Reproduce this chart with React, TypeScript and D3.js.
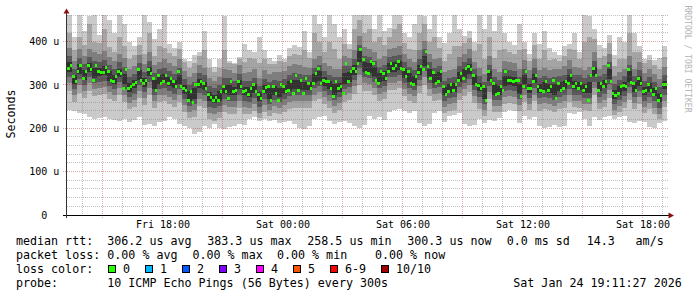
import React from 'react';
import * as d3 from 'd3';

// ---- time span (UTC used as wall clock) ----
const START = Date.UTC(2026, 0, 23, 13, 12);
const END = Date.UTC(2026, 0, 24, 19, 12);
const Y_MAX = 461.5; // microseconds at top of plot

// median rtt in microseconds, one value per 7.5 minutes
const MEDIAN_US = [
  338,346,319,309,331,346,315,331,346,336, 311,346,331,328,328,341,331,311,308,319,
  331,327,293,335,293,296,300,305,335,311, 304,311,335,327,315,288,323,304,308,323,
  304,315,308,296,331,296,292,288,265,285, 259,300,300,308,304,292,277,270,265,272,
  265,285,296,285,269,308,285,288,308,296, 285,288,277,292,300,285,277,269,285,295,
  296,265,296,281,265,302,296,285,288,308, 281,321,288,311,281,315,304,292,304,327,
  339,304,311,308,308,292,273,308,292,296, 281,350,308,331,339,331,350,383,358,328,
  327,354,350,311,304,331,327,315,331,350, 339,346,354,339,335,319,331,304,302,319,
  328,342,335,377,342,315,328,304,308,331, 296,277,285,300,288,300,311,327,315,339,
  342,335,323,300,298,292,296,265,331,311, 304,277,281,296,288,331,311,311,308,311,
  310,273,296,331,292,292,308,323,296,288, 285,308,288,296,311,269,304,288,292,308,
  304,323,296,304,292,304,288,296,265,323, 339,323,288,304,296,308,344,308,281,275,
  281,296,298,296,336,305,304,287,315,304, 285,288,300,288,277,292,265,275,300,300,
];

// smoke: sorted ping pairs, one value per 15 minutes (microseconds)
const HI1 = [
  470,410,470,425,460,470,415,470,450,420, 470,440,400,390,410,470,445,405,430,470,
  395,385,400,360,355,370,375,425,360,342, 360,460,355,350,365,395,380,375,410,380,
  362,355,370,360,385,392,388,425,375,470, 440,410,470,440,410,430,395,470,470,470,
  470,430,470,425,432,470,465,420,410,440, 470,460,430,470,410,398,420,470,430,412,
  425,400,470,430,470,425,460,420,400,392, 440,400,372,420,395,425,385,375,370,390,
  395,420,375,470,460,430,392,385,415,370, 410,400,470,420,390,360,370,358,362,390,
];
const HI2 = [
  420,380,410,392,440,400,398,430,388,376, 410,390,360,370,392,372,420,368,390,386,
  374,366,384,352,340,350,366,380,340,330, 340,380,350,348,360,352,362,360,350,360,
  348,348,356,352,366,372,370,380,362,420, 400,376,400,382,360,395,382,430,450,420,
  430,400,410,392,410,430,440,396,384,380, 420,440,400,410,386,356,372,390,390,396,
  408,378,395,360,410,362,380,382,376,372, 380,382,356,392,360,380,358,360,356,368,
  382,380,360,400,410,405,362,366,396,344, 360,360,420,376,376,350,358,345,336,365,
];
const HI3 = [
  386,356,384,366,384,376,372,378,364,356, 372,362,336,344,370,348,376,346,354,360,
  350,344,360,332,318,328,346,340,316,310, 318,336,334,328,346,328,330,336,316,334,
  326,330,330,332,344,348,345,342,340,360, 366,350,344,336,336,366,362,380,412,388,
  384,376,360,366,384,386,390,372,360,352, 380,402,372,360,362,330,334,338,364,372,
  382,354,340,326,366,336,330,356,352,350, 336,358,334,360,334,340,334,338,338,344,
  358,342,340,334,342,376,338,346,372,320, 330,338,366,338,354,328,336,326,314,342,
];
const HI4 = [
  366,338,362,348,364,356,354,358,346,336, 352,342,318,326,350,330,356,328,336,340,
  332,326,340,314,300,308,328,322,298,292, 300,316,316,310,326,310,310,316,298,314,
  308,312,310,314,324,328,325,322,322,340, 346,332,324,318,318,344,344,360,392,368,
  364,356,342,346,364,366,370,352,342,334, 360,382,352,340,344,310,316,318,344,352,
  362,336,320,308,346,318,312,336,334,332, 318,338,316,340,316,320,316,318,320,324,
  338,324,322,316,322,356,320,326,352,302, 312,320,346,320,334,310,318,308,296,324,
];
const HI5 = [
  352,324,348,334,350,340,340,344,332,322, 338,326,304,312,334,316,342,312,322,326,
  318,312,324,300,286,292,314,308,284,278, 286,300,300,296,312,296,295,302,284,300,
  292,298,294,300,310,312,311,308,308,326, 332,318,310,302,304,328,330,345,378,354,
  350,342,328,332,350,352,356,338,328,320, 346,368,338,326,330,296,302,304,330,338,
  348,322,305,292,332,302,298,320,320,318, 302,324,302,326,302,306,302,302,306,310,
  324,310,308,302,306,342,306,312,338,288, 298,306,332,306,320,296,304,294,282,310,
];
const LO5 = [
  330,302,326,312,330,316,320,322,310,302, 318,302,284,292,312,296,320,290,302,304,
  298,292,302,280,264,268,294,288,262,258, 264,280,276,276,290,276,273,282,262,280,
  268,278,272,280,287,290,289,288,288,304, 310,298,290,278,284,302,308,324,354,330,
  328,318,306,310,330,330,335,316,306,300, 324,344,316,305,308,276,282,284,308,316,
  326,300,285,268,310,278,278,298,300,298, 280,302,282,304,282,285,282,278,285,290,
  302,290,288,282,282,320,285,292,314,268, 278,287,308,284,298,276,284,274,260,290,
];
const LO4 = [
  318,290,314,300,318,304,308,310,298,290, 306,290,272,280,300,284,308,278,290,292,
  286,280,290,268,252,256,282,276,250,246, 252,268,264,264,278,264,261,270,250,268,
  256,266,260,268,275,278,277,276,276,292, 298,286,278,266,272,290,296,312,340,318,
  316,306,294,298,318,318,323,304,294,288, 312,332,304,293,296,264,270,272,296,304,
  314,288,273,256,298,266,266,286,288,286, 268,290,270,292,270,273,270,266,273,278,
  290,278,276,270,270,308,273,280,302,256, 266,275,296,272,286,264,272,262,248,278,
];
const LO3 = [
  304,276,300,286,304,290,294,296,284,276, 292,276,258,266,286,270,294,264,276,278,
  272,266,276,254,238,242,268,262,236,232, 238,254,250,250,264,250,247,256,236,254,
  242,252,246,254,261,264,263,262,262,278, 284,272,264,252,258,276,282,298,324,304,
  302,292,280,284,304,304,309,290,280,274, 298,318,290,279,282,250,256,258,282,290,
  300,274,259,242,284,252,252,272,274,272, 254,276,256,278,256,259,256,252,259,264,
  276,264,262,256,256,294,259,266,288,242, 252,261,282,258,272,250,258,248,234,264,
];
const LO2 = [
  286,260,282,270,286,274,278,280,268,262, 276,260,244,250,270,254,276,248,260,262,
  256,250,260,238,224,226,252,246,222,218, 224,238,234,234,248,234,232,240,224,238,
  228,236,232,238,245,248,246,246,246,262, 268,256,248,236,242,260,266,280,300,286,
  286,276,264,268,288,288,292,274,264,258, 282,300,274,263,266,236,240,242,266,274,
  284,258,244,228,268,238,238,256,258,256, 240,260,242,262,240,244,242,238,244,248,
  260,250,248,242,240,276,244,250,270,230, 238,246,266,244,256,236,244,234,222,250,
];
const LO1 = [
  242,240,235,232,226,222,224,226,222,220, 218,222,215,220,225,207,210,205,215,218,
  225,222,210,205,200,188,192,205,200,210, 200,198,202,205,210,208,222,225,218,222,
  218,220,212,215,218,210,200,198,205,222, 225,228,218,210,215,218,212,205,200,208,
  228,222,225,220,238,242,245,240,236,240, 212,205,210,236,240,215,228,230,236,210,
  205,208,222,212,220,218,224,238,242,240, 212,228,222,225,205,200,204,208,202,205,
  235,232,238,222,205,225,220,225,228,222, 225,228,215,212,218,214,204,200,212,218,
];

const SMOKE_COLORS = ['#cacaca', '#a4a4a4', '#7e7e7e', '#585858', '#323232'];
const Y_TICKS = [0, 100, 200, 300, 400];
const Y_UNIT = ['', 'u', 'u', 'u', 'u'];

const RTT_LABEL = 'median rtt:';
const RTT_ITEMS = ['306.2 us avg', '383.3 us max', '258.5 us min', '300.3 us now', '0.0 ms sd', '14.3', 'am/s'];
const LOSS_LABEL = 'packet loss:';
const LOSS_ITEMS = ['0.00 % avg', '0.00 % max', '0.00 % min', '0.00 % now'];
const LOSS_COLOR_LABEL = 'loss color:';
const LOSS_KEYS = ['0', '1', '2', '3', '4', '5', '6-9', '10/10'];
const LOSS_KEY_COLORS = ['#26ff00', '#00b8ff', '#0059ff', '#7e00ff', '#ff00ff', '#ff5500', '#ff0000', '#a00000'];
const PROBE_LABEL = 'probe:';
const PROBE_TEXT = '10 ICMP Echo Pings (56 Bytes) every 300s';
const DATE_TEXT = 'Sat Jan 24 19:11:27 2026';
const WATERMARK = 'RRDTOOL / TOBI OETIKER';
const Y_TITLE = 'Seconds';

export default function App() {
  const W = 697, H = 297;
  const left = 67, right = 667, top = 15, bottom = 215;
  const x = d3.scaleUtc().domain([START, END]).range([left, right]);
  const y = d3.scaleLinear().domain([0, Y_MAX]).range([bottom, top]);
  const fmt = d3.utcFormat('%a %H:%M');

  const bandStep = (END - START) / HI1.length;
  const medStep = (END - START) / MEDIAN_US.length;
  const bands = [[HI1, LO1], [HI2, LO2], [HI3, LO3], [HI4, LO4], [HI5, LO5]];

  const bandPaths = bands.map(([hi, lo]) => {
    let p = '';
    hi.forEach((h, i) => {
      const x0 = Math.round(x(START + i * bandStep));
      const x1 = Math.round(x(START + (i + 1) * bandStep));
      const y0 = Math.round(y(Math.min(h, Y_MAX)));
      const y1 = Math.round(y(lo[i]));
      p += `M${x0},${y0}H${x1}V${y1}H${x0}Z`;
    });
    return p;
  });

  let medPath = '';
  MEDIAN_US.forEach((m, j) => {
    const x0 = Math.round(x(START + j * medStep));
    const x1 = Math.round(x(START + (j + 1) * medStep));
    const yc = Math.round(y(m) - 1.5);
    medPath += `M${x0},${yc}H${x1}V${yc + 3}H${x0}Z`;
  });

  const hours = d3.utcHour.range(START, END + 1);
  const minorVals = d3.range(20, Y_MAX, 20).filter(v => v % 100 !== 0);
  const majorVals = Y_TICKS.filter(v => v > 0);
  const hy = (v: number) => Math.floor(y(v)) + 0.5;

  const minorColor = 'rgba(120,120,120,0.45)';
  const majorColor = 'rgba(170,30,30,0.38)';

  const rttX = [107.3, 207.3, 307.3, 407.3, 506.7, 586.7, 635.6];
  const lossX = [107.3, 192.5, 277, 375];
  const keyX = [108, 145, 182, 219, 256, 293, 330, 381];

  return (
    <svg width={W} height={H} style={{ position: 'absolute', left: 0, top: 0, background: '#fff' }}
      fontFamily="'DejaVu Sans Mono', monospace">
      <rect x={0} y={0} width={W} height={H} fill="#fff" />
      <defs>
        <clipPath id="plot"><rect x={left} y={top} width={right - left} height={bottom - top} /></clipPath>
      </defs>
      <g clipPath="url(#plot)" shapeRendering="crispEdges">
        {bandPaths.map((p, k) => <path key={k} d={p} fill={SMOKE_COLORS[k]} />)}
        <path d={medPath} fill={LOSS_KEY_COLORS[0]} />
      </g>
      {/* grid */}
      <g fill="none" strokeWidth={1} strokeDasharray="1,1" shapeRendering="crispEdges">
        {minorVals.map(v => <line key={'hm' + v} x1={left} x2={right + 1} y1={hy(v)} y2={hy(v)} stroke={minorColor} />)}
        {hours.filter(h => h.getUTCHours() % 3 !== 0).map(h => {
          const xx = x(h) - 0.5;
          return <line key={'vm' + +h} x1={xx} x2={xx} y1={top} y2={bottom + 2} stroke={minorColor} />;
        })}
        {majorVals.map(v => <line key={'hM' + v} x1={63} x2={right + 1} y1={hy(v)} y2={hy(v)} stroke={majorColor} />)}
        {hours.filter(h => h.getUTCHours() % 3 === 0).map(h => {
          const xx = x(h) - 0.5;
          return <line key={'vM' + +h} x1={xx} x2={xx} y1={top} y2={bottom + 4} stroke={majorColor} />;
        })}
      </g>
      {/* axes */}
      <g shapeRendering="crispEdges">
        <line x1={63} x2={670} y1={bottom + 0.5} y2={bottom + 0.5} stroke="#000" />
        <line x1={left - 0.5} x2={left - 0.5} y1={bottom + 3} y2={12} stroke="#333" />
      </g>
      <path d={`M66.5,8.5L63.5,13.5L69.5,13.5Z`} fill="#8b1010" />
      <path d={`M674,215.5L668.5,212.5L668.5,218.5Z`} fill="#8b1010" />
      {/* y tick labels */}
      <g fontSize={10} fill="#000">
        {Y_TICKS.map((v, i) => (
          <g key={'yl' + v}>
            <text x={47.3} y={y(v) + 3.6} textAnchor="end">{v}</text>
            {Y_UNIT[i] && <text x={53.3} y={y(v) + 3.6}>{Y_UNIT[i]}</text>}
          </g>
        ))}
        {hours.filter(h => h.getUTCHours() % 6 === 0).map(h => (
          <text key={'xl' + +h} x={x(h)} y={228} textAnchor="middle">{fmt(h)}</text>
        ))}
      </g>
      <text transform="translate(11,114) rotate(-90)" textAnchor="middle" dominantBaseline="central"
        fontSize={11.66} fill="#000">{Y_TITLE}</text>
      <text transform="translate(688,59) rotate(90)" textAnchor="middle" dominantBaseline="central"
        fontSize={8.1} fill="#b4b4b4">{WATERMARK}</text>
      {/* legend */}
      <g fontSize={11.66} fill="#000">
        <text x={16} y={245}>{RTT_LABEL}</text>
        {RTT_ITEMS.map((s, i) => <text key={'r' + i} x={rttX[i]} y={245}>{s}</text>)}
        <text x={16} y={259}>{LOSS_LABEL}</text>
        {LOSS_ITEMS.map((s, i) => <text key={'l' + i} x={lossX[i]} y={259}>{s}</text>)}
        <text x={16} y={273}>{LOSS_COLOR_LABEL}</text>
        {LOSS_KEYS.map((s, i) => (
          <g key={'k' + i}>
            <rect x={keyX[i] + 0.5} y={265.5} width={7} height={7} fill={LOSS_KEY_COLORS[i]} stroke="#000" shapeRendering="crispEdges" />
            <text x={keyX[i] + 15} y={273}>{s}</text>
          </g>
        ))}
        <text x={16} y={287}>{PROBE_LABEL}</text>
        <text x={107.3} y={287}>{PROBE_TEXT}</text>
        <text x={513.3} y={287}>{DATE_TEXT}</text>
      </g>
    </svg>
  );
}
